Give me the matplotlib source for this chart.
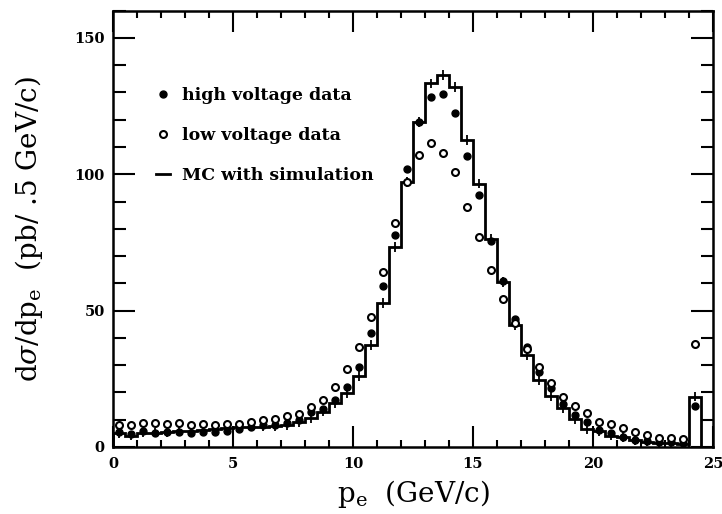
import matplotlib.pyplot as plt
import numpy as np
from matplotlib.lines import Line2D
from matplotlib.ticker import MultipleLocator

# bin edges in p_e (GeV/c), 0.5 GeV/c bins
edges = np.arange(0, 25.01, 0.5)
centers = edges[:-1] + 0.25

# MC with simulation, one value per bin (last bin empty)
mc = [5.0, 4.2, 5.3, 5.3, 5.5, 5.8, 6.0, 6.3, 6.5, 6.8,
      7.3, 7.5, 7.5, 7.6, 8.0, 9.3, 10.5, 13.0, 16.0, 19.7,
      26.0, 37.3, 52.7, 73.3, 97.2, 119.3, 133.3, 136.3, 132.0, 112.7,
      96.6, 76.3, 60.6, 44.7, 33.7, 24.7, 18.7, 14.4, 10.1, 6.5,
      5.9, 4.2, 3.8, 2.6, 2.0, 1.6, 1.3, 1.0, 18.5, 0.0]
mc_err = 1.8

# data points at bin centres 0.25 ... 24.25
high_v = [5.5, 4.8, 5.8, 5.3, 5.6, 5.4, 5.3, 5.6, 5.6, 6.0,
          6.5, 7.5, 8.0, 8.2, 8.8, 10.0, 12.7, 14.0, 17.1, 22.0,
          29.4, 41.9, 59.0, 77.7, 101.8, 119.0, 128.2, 129.4, 122.3, 106.8,
          92.4, 75.7, 61.0, 46.8, 36.8, 27.5, 21.5, 15.8, 11.7, 9.3,
          6.2, 5.2, 3.8, 2.6, 2.2, 1.9, 1.9, 1.6, 15.0]
low_v = [8.0, 8.1, 8.7, 8.8, 8.4, 8.9, 8.1, 8.4, 8.0, 8.4,
         8.6, 9.3, 9.9, 10.2, 11.3, 12.2, 14.7, 17.2, 22.1, 28.7,
         36.8, 47.8, 64.3, 82.0, 97.0, 107.2, 111.4, 107.9, 101.0, 88.1,
         77.1, 64.9, 54.3, 45.5, 36.0, 29.2, 23.4, 18.5, 15.0, 12.6,
         9.3, 8.4, 6.8, 5.6, 4.4, 3.4, 3.4, 2.8, 37.7]

plt.rcParams['font.family'] = 'DejaVu Serif'
plt.rcParams['mathtext.fontset'] = 'dejavuserif'

fig = plt.figure(figsize=(7.22, 5.14), dpi=100)
ax = fig.add_axes([0.1565, 0.1304, 0.831, 0.8488])

mc = np.array(mc)
ax.stairs(mc, edges, color='black', linewidth=2.0, baseline=0)
nz = mc > 0
ax.errorbar(centers[nz], mc[nz], yerr=mc_err, fmt='none', ecolor='black',
            elinewidth=1.3, capsize=0)

pc = centers[:len(high_v)]
ax.plot(pc, high_v, 'o', color='black', markersize=5, linestyle='none')
ax.plot(pc, low_v, 'o', markerfacecolor='white', markeredgecolor='black',
        markeredgewidth=1.5, markersize=5, linestyle='none')

ax.set_xlim(0, 25)
ax.set_ylim(0, 160)
ax.xaxis.set_major_locator(MultipleLocator(5))
ax.xaxis.set_minor_locator(MultipleLocator(1))
ax.yaxis.set_major_locator(MultipleLocator(50))
ax.yaxis.set_minor_locator(MultipleLocator(10))
ax.tick_params(which='both', direction='in', top=True, right=True, width=1.5)
ax.tick_params(axis='x', which='major', length=15, pad=7)
ax.tick_params(axis='x', which='minor', length=5)
ax.tick_params(axis='y', which='major', length=16, pad=6)
ax.tick_params(axis='y', which='minor', length=9)
for lab in ax.get_xticklabels() + ax.get_yticklabels():
    lab.set_fontweight('bold')
    lab.set_fontsize(10.5)
for s in ax.spines.values():
    s.set_linewidth(1.8)

ax.set_xlabel(r'p$_\mathregular{e}$  (GeV/c)', fontsize=20)
ax.xaxis.set_label_coords(0.5, -0.07)
ax.set_ylabel(r'd$\sigma$/dp$_\mathregular{e}$  (pb/ .5 GeV/c)', fontsize=20)
ax.yaxis.set_label_coords(-0.113, 0.5)

handles = [
    Line2D([], [], marker='o', color='black', linestyle='none', markersize=5),
    Line2D([], [], marker='o', markerfacecolor='white', markeredgecolor='black',
           markeredgewidth=1.5, linestyle='none', markersize=5),
    Line2D([], [], color='black', linewidth=2.0),
]
labels = ['high voltage data', 'low voltage data', 'MC with simulation']
ax.legend(handles, labels, loc='upper left', bbox_to_anchor=(0.045, 0.86),
          frameon=False, handlelength=0.8, handletextpad=0.7, labelspacing=1.32,
          prop={'family': 'DejaVu Serif', 'weight': 'bold', 'size': 12.5})

fig.savefig('out.png', dpi=100)
